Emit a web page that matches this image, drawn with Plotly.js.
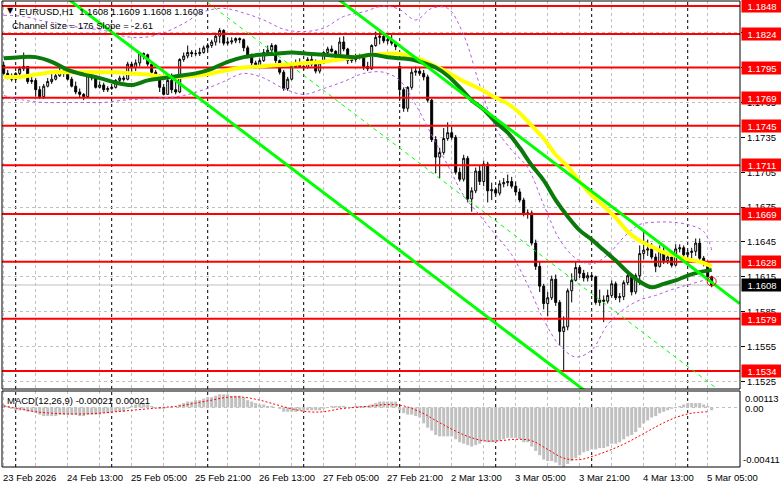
<!DOCTYPE html>
<html><head><meta charset="utf-8">
<script src="https://cdn.plot.ly/plotly-3.0.1.min.js"></script>
<style>html,body{margin:0;padding:0;background:#fff}#chart{width:781px;height:489px}</style>
</head><body><div id="chart"></div>
<script>
// ---------- DATA ----------
const symbolTitle = 'EURUSD,H1  1.1608 1.1609 1.1608 1.1608';
const channelText = 'Channel size = 176 Slope = -2.61';
const macdText = 'MACD(12,26,9) -0.00021 0.00021';

// hourly bars, bar 0 = 23 Feb 2026 21:00 (weekend hours skipped)
const open = [
1.1797,1.1790,1.1788,1.1785,1.1790,1.1794,1.1796,1.1783,1.1784,1.1776,
1.1770,1.1779,1.1783,1.1785,1.1788,1.1792,1.1790,1.1785,1.1779,1.1774,
1.1772,1.1770,1.1788,1.1786,1.1778,1.1780,1.1776,1.1777,1.1778,1.1784,
1.1786,1.1785,1.1798,1.1795,1.1799,1.1807,1.1806,1.1798,1.1791,1.1787,
1.1778,1.1772,1.1784,1.1776,1.1774,1.1802,1.1805,1.1808,1.1807,1.1807,
1.1808,1.1812,1.1814,1.1817,1.1822,1.1827,1.1816,1.1817,1.1818,1.1820,
1.1819,1.1812,1.1805,1.1799,1.1796,1.1801,1.1808,1.1810,1.1814,1.1801,
1.1791,1.1777,1.1785,1.1796,1.1799,1.1796,1.1795,1.1802,1.1798,1.1792,
1.1799,1.1808,1.1811,1.1809,1.1805,1.1817,1.1811,1.1801,1.1802,1.1804,
1.1805,1.1796,1.1794,1.1814,1.1821,1.1822,1.1818,1.1819,1.1816,1.1796,
1.1776,1.1760,1.1778,1.1791,1.1792,1.1790,1.1787,1.1767,1.1733,1.1718,
1.1722,1.1734,1.1739,1.1735,1.1705,1.1699,1.1717,1.1682,1.1689,1.1706,
1.1697,1.1712,1.1689,1.1690,1.1687,1.1695,1.1696,1.1697,1.1693,1.1688,
1.1681,1.1669,1.1670,1.1644,1.1624,1.1607,1.1592,1.1597,1.1613,1.1593,
1.1568,1.1572,1.1603,1.1612,1.1623,1.1618,1.1614,1.1616,1.1615,1.1593,
1.1595,1.1594,1.1599,1.1609,1.1597,1.1598,1.1610,1.1616,1.1602,1.1616,
1.1635,1.1638,1.1639,1.1632,1.1624,1.1637,1.1629,1.1632,1.1625,1.1639,
1.1640,1.1634,1.1636,1.1637,1.1644,1.1631,1.1627,1.1615];
const high = [
1.1800,1.1793,1.1790,1.1791,1.1796,1.1808,1.1796,1.1787,1.1786,1.1779,
1.1781,1.1786,1.1790,1.1790,1.1797,1.1793,1.1791,1.1787,1.1783,1.1777,
1.1773,1.1790,1.1790,1.1788,1.1783,1.1782,1.1779,1.1781,1.1785,1.1788,
1.1788,1.1800,1.1800,1.1802,1.1808,1.1808,1.1807,1.1800,1.1793,1.1789,
1.1781,1.1786,1.1790,1.1784,1.1803,1.1808,1.1814,1.1810,1.1810,1.1812,
1.1814,1.1816,1.1819,1.1825,1.1829,1.1828,1.1821,1.1821,1.1821,1.1821,
1.1820,1.1814,1.1807,1.1801,1.1803,1.1811,1.1814,1.1816,1.1815,1.1802,
1.1793,1.1787,1.1799,1.1802,1.1803,1.1799,1.1804,1.1805,1.1802,1.1801,
1.1809,1.1813,1.1814,1.1810,1.1821,1.1822,1.1812,1.1805,1.1807,1.1807,
1.1806,1.1800,1.1815,1.1826,1.1826,1.1825,1.1822,1.1824,1.1818,1.1797,
1.1778,1.1779,1.1795,1.1796,1.1795,1.1793,1.1789,1.1768,1.1736,1.1726,
1.1743,1.1748,1.1744,1.1737,1.1709,1.1720,1.1719,1.1692,1.1709,1.1711,
1.1715,1.1714,1.1696,1.1692,1.1698,1.1700,1.1703,1.1701,1.1697,1.1691,
1.1683,1.1673,1.1672,1.1647,1.1628,1.1609,1.1602,1.1616,1.1617,1.1595,
1.1581,1.1605,1.1618,1.1628,1.1625,1.1621,1.1619,1.1617,1.1616,1.1604,
1.1599,1.1604,1.1612,1.1611,1.1601,1.1612,1.1619,1.1617,1.1618,1.1642,
1.1655,1.1647,1.1644,1.1635,1.1642,1.1642,1.1636,1.1636,1.1643,1.1643,
1.1642,1.1638,1.1640,1.1648,1.1648,1.1633,1.1629,1.1616];
const low = [
1.1789,1.1785,1.1783,1.1784,1.1788,1.1792,1.1781,1.1781,1.1770,1.1768,
1.1768,1.1778,1.1781,1.1784,1.1787,1.1787,1.1784,1.1778,1.1772,1.1769,
1.1767,1.1769,1.1784,1.1777,1.1777,1.1774,1.1774,1.1776,1.1777,1.1781,
1.1783,1.1784,1.1791,1.1792,1.1796,1.1802,1.1796,1.1789,1.1785,1.1774,
1.1771,1.1772,1.1773,1.1772,1.1773,1.1800,1.1803,1.1804,1.1805,1.1805,
1.1807,1.1809,1.1812,1.1814,1.1816,1.1814,1.1814,1.1815,1.1816,1.1816,
1.1809,1.1803,1.1797,1.1794,1.1795,1.1800,1.1805,1.1808,1.1799,1.1789,
1.1775,1.1775,1.1784,1.1795,1.1795,1.1793,1.1794,1.1796,1.1790,1.1790,
1.1798,1.1806,1.1808,1.1803,1.1804,1.1809,1.1798,1.1799,1.1800,1.1802,
1.1793,1.1792,1.1793,1.1813,1.1815,1.1816,1.1815,1.1814,1.1810,1.1767,
1.1757,1.1757,1.1776,1.1788,1.1788,1.1784,1.1765,1.1731,1.1704,1.1700,
1.1720,1.1732,1.1733,1.1703,1.1697,1.1697,1.1679,1.1671,1.1687,1.1694,
1.1693,1.1679,1.1681,1.1685,1.1685,1.1692,1.1693,1.1691,1.1685,1.1679,
1.1667,1.1665,1.1642,1.1621,1.1602,1.1587,1.1581,1.1595,1.1590,1.1556,
1.1533,1.1569,1.1593,1.1611,1.1614,1.1611,1.1611,1.1612,1.1591,1.1590,
1.1576,1.1592,1.1597,1.1595,1.1593,1.1595,1.1608,1.1599,1.1600,1.1608,
1.1630,1.1633,1.1630,1.1619,1.1623,1.1626,1.1626,1.1623,1.1624,1.1636,
1.1631,1.1630,1.1631,1.1633,1.1629,1.1624,1.1612,1.1606];
const close = [
1.1790,1.1788,1.1785,1.1790,1.1794,1.1796,1.1783,1.1784,1.1776,1.1770,
1.1779,1.1783,1.1785,1.1788,1.1792,1.1790,1.1785,1.1779,1.1774,1.1772,
1.1770,1.1788,1.1786,1.1778,1.1780,1.1776,1.1777,1.1778,1.1784,1.1786,
1.1785,1.1798,1.1795,1.1799,1.1807,1.1806,1.1798,1.1791,1.1787,1.1778,
1.1772,1.1784,1.1776,1.1774,1.1802,1.1805,1.1808,1.1807,1.1807,1.1808,
1.1812,1.1814,1.1817,1.1822,1.1827,1.1816,1.1817,1.1818,1.1820,1.1819,
1.1812,1.1805,1.1799,1.1796,1.1801,1.1808,1.1810,1.1814,1.1801,1.1791,
1.1777,1.1785,1.1796,1.1799,1.1796,1.1795,1.1802,1.1798,1.1792,1.1799,
1.1808,1.1811,1.1809,1.1805,1.1817,1.1811,1.1801,1.1802,1.1804,1.1805,
1.1796,1.1794,1.1814,1.1821,1.1822,1.1818,1.1819,1.1816,1.1813,1.1776,
1.1760,1.1778,1.1791,1.1792,1.1790,1.1787,1.1767,1.1733,1.1718,1.1722,
1.1734,1.1739,1.1735,1.1705,1.1699,1.1717,1.1682,1.1689,1.1706,1.1697,
1.1712,1.1689,1.1690,1.1687,1.1695,1.1696,1.1697,1.1693,1.1688,1.1681,
1.1669,1.1670,1.1644,1.1624,1.1607,1.1592,1.1597,1.1613,1.1593,1.1568,
1.1572,1.1603,1.1612,1.1623,1.1618,1.1614,1.1616,1.1615,1.1593,1.1595,
1.1594,1.1599,1.1609,1.1597,1.1598,1.1610,1.1616,1.1602,1.1616,1.1635,
1.1638,1.1639,1.1632,1.1624,1.1637,1.1629,1.1632,1.1625,1.1639,1.1640,
1.1634,1.1636,1.1637,1.1644,1.1631,1.1627,1.1615,1.1608];

// moving averages (sampled bars)
const maBars = [0,4,8,12,16,20,24,28,32,36,40,44,48,52,56,60,64,68,72,76,80,84,88,92,96,
  99,102,105,108,111,114,117,120,123,126,129,132,135,138,141,144,147,150,153,156,159,162,165,168,171,174,177];
const maYellow = [1.1787,1.1787,1.1789,1.1791,1.1791,1.1791,1.1791,1.1791,1.1790,1.1789,
  1.1787,1.1787,1.1788,1.1790,1.1793,1.1795,1.1796,1.1797,1.1798,1.1799,
  1.1800,1.1802,1.1804,1.1806,1.1807,
  1.1807,1.1804,1.1801,1.1796,1.1791,1.1785,1.1780,1.1775,1.1769,1.1764,
  1.1756,1.1745,1.1734,1.1720,1.1710,1.1697,1.1685,1.1676,1.1666,1.1654,
  1.1646,1.1641,1.1636,1.1633,1.1630,1.1628,1.1624];
const maGreen = [1.1803,1.1804,1.1804,1.1800,1.1793,1.1789,1.1786,1.1782,1.1780,1.1784,
  1.1786,1.1788,1.1790,1.1794,1.1800,1.1804,1.1806,1.1807,1.1808,1.1807,
  1.1806,1.1805,1.1804,1.1806,1.1804,
  1.1803,1.1802,1.1799,1.1795,1.1788,1.1778,1.1767,1.1759,1.1748,1.1739,
  1.1726,1.1711,1.1698,1.1681,1.1667,1.1655,1.1647,1.1638,1.1629,1.1619,
  1.1611,1.1606,1.1609,1.1612,1.1616,1.1619,1.1621];

// envelope bands (sampled bars)
const bandBars = [0,5,10,15,20,25,30,35,40,45,50,55,60,65,70,75,80,85,90,95,99,103,107,111,115,119,
  123,127,131,135,139,143,147,151,155,159,163,167,171,175,177];
const bandUpper = [1.1840,1.1839,1.1835,1.1832,1.1829,1.1827,1.1822,1.1821,1.1825,1.1833,
  1.1843,1.1846,1.1842,1.1836,1.1828,1.1826,1.1829,1.1839,1.1843,1.1848,
  1.1845,1.1836,1.1846,1.1846,1.1823,1.1780,1.1743,1.1724,1.1709,1.1677,
  1.1647,1.1631,1.1626,1.1634,1.1649,1.1660,1.1662,1.1662,1.1660,1.1654,1.1638];
const bandLower = [1.1771,1.1767,1.1765,1.1765,1.1765,1.1765,1.1767,1.1768,1.1769,1.1771,
  1.1776,1.1783,1.1790,1.1786,1.1777,1.1772,1.1777,1.1783,1.1790,1.1791,
  1.1784,1.1763,1.1737,1.1711,1.1685,1.1668,1.1651,1.1634,1.1608,1.1578,
  1.1556,1.1546,1.1552,1.1574,1.1587,1.1595,1.1599,1.1604,1.1608,1.1612,1.1614];

// regression channel (ray end points)
const chanBars = [0, 184];
const chanLower = [1.1896, 1.1416];
const chanMid = [1.1984, 1.1504];
const chanUpper = [1.2072, 1.1592];

// horizontal levels
const levels = [1.1848,1.1824,1.1795,1.1769,1.1745,1.1711,1.1669,1.1628,1.1579,1.1534];
const lastPrice = 1.1608;
const alertBar = [177];
const alertPrice = [1.1611];

// price axis grid values
const priceTicks = [1.1525,1.1555,1.1585,1.1615,1.1645,1.1675,1.1705,1.1735,1.1765,1.1795,1.1825];

// time axis
const gridBars = [0,8,16,24,32,40,48,56,64,72,80,88,96,104,112,120,128,136,144,152,160,168,176,184];
const labelBars = [0,16,32,48,64,80,96,112,128,144,160,176];
const labelText = ['23 Feb 2026','24 Feb 13:00','25 Feb 05:00','25 Feb 21:00','26 Feb 13:00','27 Feb 05:00',
  '27 Feb 21:00','2 Mar 13:00','3 Mar 05:00','3 Mar 21:00','4 Mar 13:00','5 Mar 05:00'];
const daySepBars = [3,27,51,75,99,123,147,171];

// MACD
const macdHist = [
0.0002,0.0001,-0.0001,-0.0002,-0.0002,-0.0002,-0.0003,-0.0003,-0.0004,-0.0005,
-0.0006,-0.0006,-0.0006,-0.0006,-0.0005,-0.0005,-0.0005,-0.0005,-0.0005,-0.0006,
-0.0006,-0.0005,-0.0005,-0.0005,-0.0005,-0.0004,-0.0004,-0.0004,-0.0003,-0.0003,
-0.0003,-0.0001,0.0001,0.0002,0.0003,0.0003,0.0002,0.0001,0.0000,-0.0001,
-0.0001,0.0000,0.0000,0.0000,0.0002,0.0003,0.0004,0.0004,0.0005,0.0005,
0.0006,0.0007,0.0007,0.0008,0.0009,0.0009,0.0009,0.0008,0.0008,0.0008,
0.0007,0.0005,0.0004,0.0003,0.0002,0.0002,0.0001,0.0001,0.0000,-0.0001,
-0.0003,-0.0003,-0.0003,-0.0003,-0.0002,-0.0003,-0.0002,-0.0002,-0.0002,-0.0002,
-0.0001,0.0000,0.0001,0.0001,0.0001,0.0001,0.0000,0.0000,0.0001,0.0001,
0.0001,0.0001,0.0002,0.0003,0.0004,0.0004,0.0004,0.0004,0.0004,-0.0002,
-0.0004,-0.0005,-0.0005,-0.0006,-0.0007,-0.0011,-0.0014,-0.0016,-0.0019,-0.0020,
-0.0020,-0.0020,-0.0020,-0.0022,-0.0024,-0.0025,-0.0026,-0.0027,-0.0026,-0.0025,
-0.0023,-0.0024,-0.0024,-0.0024,-0.0023,-0.0022,-0.0021,-0.0021,-0.0021,-0.0022,
-0.0024,-0.0024,-0.0027,-0.0030,-0.0033,-0.0036,-0.0037,-0.0037,-0.0038,-0.0040,
-0.0041,-0.0039,-0.0037,-0.0035,-0.0033,-0.0031,-0.0030,-0.0029,-0.0029,-0.0028,
-0.0028,-0.0027,-0.0025,-0.0025,-0.0024,-0.0022,-0.0020,-0.0019,-0.0017,-0.0014,
-0.0011,-0.0009,-0.0007,-0.0006,-0.0004,-0.0003,-0.0002,-0.0001,0.0000,0.0001,
0.0002,0.0003,0.0003,0.0003,0.0003,0.0002,0.0001,-0.0002];
const sigBars = [0,4,8,12,16,20,24,28,32,36,40,44,48,52,56,60,64,68,72,76,80,84,88,92,96,100,
  104,108,112,116,120,124,128,132,136,140,144,148,152,156,160,164,168,172,176];
const macdSignal = [0.0001,-0.0001,-0.0003,-0.0004,-0.00045,-0.00045,-0.0004,-0.0003,-0.0002,-0.0001,
  0.0000,0.0001,0.0003,0.0005,0.0007,0.0007,0.0005,0.0002,-0.0001,-0.0003,-0.0003,-0.0001,0.0000,0.0001,
  0.0002,0.0001,-0.0003,-0.0009,-0.0015,-0.0020,-0.0023,-0.0023,-0.0022,-0.0023,-0.0029,-0.0035,
  -0.0036,-0.0033,-0.0029,-0.0024,-0.0018,-0.0012,-0.0007,-0.0004,-0.0003];
const macdTop = 0.00113, macdBottom = -0.00411;

// ---------- CHART ----------
const FONT = 'Liberation Sans, Arial, sans-serif';
const bars = close.map((_, i) => i);

const levelX = [], levelY = [];
levels.forEach(l => { levelX.push(-1, 186, null); levelY.push(l, l, null); });

const traces = [
  {type:'scatter', mode:'lines', x:levelX, y:levelY, line:{color:'#ff0000', width:2}, hoverinfo:'skip', xaxis:'x', yaxis:'y'},
  {type:'candlestick', x:bars, open:open, high:high, low:low, close:close, xaxis:'x', yaxis:'y',
    whiskerwidth:0,
    increasing:{line:{color:'#000000', width:1}, fillcolor:'#ffffff'},
    decreasing:{line:{color:'#000000', width:1}, fillcolor:'#000000'}},
  {type:'scatter', mode:'lines', x:bandBars, y:bandUpper, line:{color:'#b45ae6', width:1, dash:'3px,3px', shape:'spline'}, xaxis:'x', yaxis:'y'},
  {type:'scatter', mode:'lines', x:bandBars, y:bandLower, line:{color:'#b45ae6', width:1, dash:'3px,3px', shape:'spline'}, xaxis:'x', yaxis:'y'},
  {type:'scatter', mode:'lines', x:maBars, y:maYellow, line:{color:'#ffff00', width:4, shape:'spline'}, xaxis:'x', yaxis:'y'},
  {type:'scatter', mode:'lines', x:maBars, y:maGreen, line:{color:'#0b7a0b', width:4, shape:'spline'}, xaxis:'x', yaxis:'y'},
  {type:'scatter', mode:'lines', x:chanBars, y:chanLower, line:{color:'#00ff00', width:3}, xaxis:'x', yaxis:'y'},
  {type:'scatter', mode:'lines', x:chanBars, y:chanUpper, line:{color:'#00ff00', width:3}, xaxis:'x', yaxis:'y'},
  {type:'scatter', mode:'lines', x:chanBars, y:chanMid, line:{color:'#00ff00', width:1, dash:'4px,4px'}, xaxis:'x', yaxis:'y'},
  {type:'scatter', mode:'markers', x:alertBar, y:alertPrice, marker:{symbol:'circle-open', size:9, color:'#ff0000', line:{width:1}}, xaxis:'x', yaxis:'y'},
  {type:'bar', x:bars, y:macdHist, width:0.75, marker:{color:'#c0c0c0', line:{width:0}}, xaxis:'x', yaxis:'y2'},
  {type:'scatter', mode:'lines', x:sigBars, y:macdSignal, line:{color:'#ff0000', width:1, dash:'2px,2px', shape:'spline'}, xaxis:'x', yaxis:'y2'}
];

const mainDomain = [78/466, 1];
const macdDomain = [0, 76/466];

const shapes = [];
daySepBars.forEach(b => {
  shapes.push({type:'line', xref:'x', yref:'paper', x0:b, x1:b, y0:mainDomain[0], y1:mainDomain[1], layer:'below', line:{color:'#000', width:1, dash:'3px,3px'}});
  shapes.push({type:'line', xref:'x', yref:'paper', x0:b, x1:b, y0:macdDomain[0], y1:macdDomain[1], layer:'below', line:{color:'#000', width:1, dash:'3px,3px'}});
});
shapes.push({type:'line', xref:'paper', yref:'y', x0:0, x1:1, y0:lastPrice, y1:lastPrice, layer:'below', line:{color:'#c0c0c0', width:1}});
shapes.push({type:'rect', xref:'paper', yref:'paper', x0:0, x1:1, y0:mainDomain[0], y1:mainDomain[1], line:{color:'#000', width:1}});
shapes.push({type:'rect', xref:'paper', yref:'paper', x0:0, x1:1, y0:macdDomain[0], y1:macdDomain[1], line:{color:'#000', width:1}});

const annotations = [];
levels.forEach(l => annotations.push({xref:'paper', yref:'y', x:1, y:l, xanchor:'left', yanchor:'middle', xshift:1,
  text:l.toFixed(4), showarrow:false, bgcolor:'#ff0000', width:38, height:10, borderpad:1,
  font:{family:FONT, size:9.5, color:'#ffffff'}}));
annotations.push({xref:'paper', yref:'y', x:1, y:lastPrice, xanchor:'left', yanchor:'middle', xshift:1,
  text:lastPrice.toFixed(4), showarrow:false, bgcolor:'#000000', width:38, height:10, borderpad:1,
  font:{family:FONT, size:9.5, color:'#ffffff'}});
labelBars.forEach((b, k) => annotations.push({xref:'x', yref:'paper', x:b, y:0, xanchor:'left', yanchor:'top',
  xshift:-3, yshift:-3, text:labelText[k], showarrow:false, font:{family:FONT, size:9.5, color:'#000'}}));
annotations.push({xref:'paper', yref:'paper', x:0, y:1, xanchor:'left', yanchor:'top', xshift:3, yshift:-3,
  text:'▼', showarrow:false, font:{family:'DejaVu Sans', size:8, color:'#000'}});
annotations.push({xref:'paper', yref:'paper', x:0, y:1, xanchor:'left', yanchor:'top', xshift:15, yshift:-3,
  text:symbolTitle, showarrow:false, font:{family:FONT, size:9.5, color:'#000'}});
annotations.push({xref:'paper', yref:'paper', x:0, y:1, xanchor:'left', yanchor:'top', xshift:8, yshift:-17,
  text:channelText, showarrow:false, font:{family:FONT, size:9.5, color:'#000'}});
annotations.push({xref:'paper', yref:'paper', x:0, y:macdDomain[1], xanchor:'left', yanchor:'top', xshift:3, yshift:-2,
  text:macdText, showarrow:false, font:{family:FONT, size:9.5, color:'#000'}});
annotations.push({xref:'paper', yref:'y2', x:1, y:macdTop, xanchor:'left', yanchor:'top', xshift:3,
  text:macdTop.toFixed(5), showarrow:false, font:{family:FONT, size:9.5, color:'#000'}});
annotations.push({xref:'paper', yref:'y2', x:1, y:0, xanchor:'left', yanchor:'middle', xshift:3, yshift:-1,
  text:'0.00', showarrow:false, font:{family:FONT, size:9.5, color:'#000'}});
annotations.push({xref:'paper', yref:'y2', x:1, y:macdBottom, xanchor:'left', yanchor:'bottom', xshift:1,
  text:macdBottom.toFixed(5), showarrow:false, font:{family:FONT, size:9.5, color:'#000'}});

const layout = {
  width:781, height:489,
  margin:{l:2, r:41, t:1, b:22, pad:0},
  paper_bgcolor:'#ffffff', plot_bgcolor:'#ffffff',
  showlegend:false, hovermode:false,
  font:{family:FONT, size:9.5, color:'#000'},
  xaxis:{range:[-0.425, 184.075], anchor:'y2', tickvals:gridBars, showticklabels:false, ticks:'',
    showgrid:true, gridcolor:'#c0c0c0', griddash:'3px,3px', gridwidth:1, zeroline:false, showline:false,
    rangeslider:{visible:false}, fixedrange:true},
  yaxis:{domain:mainDomain, range:[1.15185, 1.18523], side:'right', anchor:'x', tickvals:priceTicks,
    ticktext:priceTicks.map(v => v.toFixed(4)), ticks:'outside', ticklen:4, tickcolor:'#000',
    showgrid:true, gridcolor:'#c0c0c0', griddash:'3px,3px', zeroline:false, showline:false,
    tickfont:{family:FONT, size:9.5, color:'#000'}, fixedrange:true},
  yaxis2:{domain:macdDomain, range:[macdBottom, macdTop], side:'right', anchor:'x', tickvals:[0],
    showticklabels:false, ticks:'', showgrid:true, gridcolor:'#c0c0c0', griddash:'3px,3px', zeroline:false, showline:false, fixedrange:true},
  shapes:shapes, annotations:annotations
};

Plotly.newPlot('chart', traces, layout, {displayModeBar:false, staticPlot:true});
</script></body></html>
